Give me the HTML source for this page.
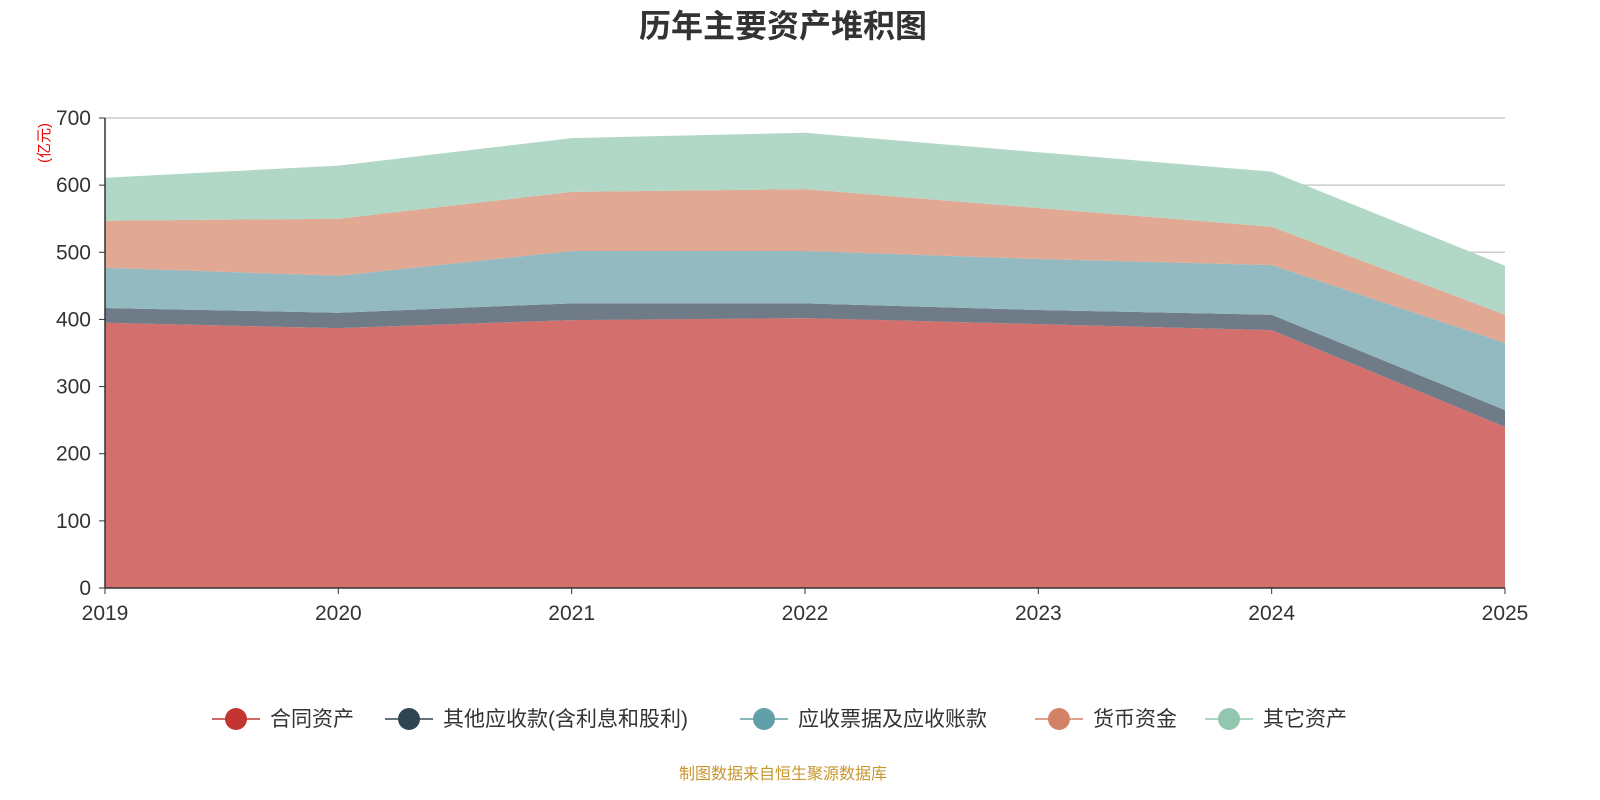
<!DOCTYPE html>
<html><head><meta charset="utf-8"><style>
body{margin:0;background:#fff;}
svg{display:block;font-family:"Liberation Sans","Noto Sans CJK SC",sans-serif;}
</style></head><body>
<svg id="c" width="1600" height="800">
<text x="783" y="37" text-anchor="middle" font-size="32" font-weight="bold" fill="#333">历年主要资产堆积图</text>
<text transform="translate(49,143) rotate(-90)" text-anchor="middle" font-size="15" fill="#e00">(亿元)</text>
<g id="grid"></g><g id="areas"></g><g id="axes"></g><g id="legend"></g>
<text x="783" y="779" text-anchor="middle" font-size="16" fill="#c8962d">制图数据来自恒生聚源数据库</text>
</svg>
<script>
const years=["2019","2020","2021","2022","2023","2024","2025"];
const contractAssets=[395,387,399,402,393,384,240];
const otherReceivables=[22,23,25,22,21,23,25];
const notesReceivable=[60,55,78,78,76,74,100];
const cash=[70,85,88,92,76,57,42];
const otherAssets=[64,79,80,84,83,82,73];
const yTicks=[0,100,200,300,400,500,600,700];
const seriesNames=["合同资产","其他应收款(含利息和股利)","应收票据及应收账款","货币资金","其它资产"];
const NS="http://www.w3.org/2000/svg";
const X0=105,X1=1505,Y0=588,Y1=118,YMAX=700;
const xs=i=>X0+(X1-X0)*i/(years.length-1);
const ys=v=>Y0-(Y0-Y1)*v/YMAX;
function mk(t,a,p){const e=document.createElementNS(NS,t);for(const k in a)e.setAttribute(k,a[k]);p.appendChild(e);return e;}
const grid=document.getElementById('grid'),axes=document.getElementById('axes'),areas=document.getElementById('areas'),legend=document.getElementById('legend');
yTicks.forEach(v=>{
 if(v>0){const l=mk('line',{x1:X0,x2:X1,y1:ys(v),y2:ys(v),stroke:'#ccc','stroke-width':1.5},grid);
 
 }
 const t=mk('text',{x:91,y:ys(v)+7,'text-anchor':'end','font-size':21,fill:'#333'},axes);t.textContent=v;
 
 
 mk('line',{x1:X0-6,x2:X0,y1:ys(v),y2:ys(v),stroke:'#333'},axes);
});
const all=[contractAssets,otherReceivables,notesReceivable,cash,otherAssets];
const fills=["#d3706d","#6f7b86","#93bac1","#e1a893","#b1d8c6"];
const lineC=["#c23531","#2f4554","#61a0a8","#d48265","#91c7ae"];
let base=years.map(()=>0);
all.forEach((s,k)=>{
 const top=base.map((b,i)=>b+s[i]);
 let d='M'+top.map((v,i)=>xs(i)+','+ys(v)).join(' L');
 for(let i=years.length-1;i>=0;i--)d+=' L'+xs(i)+','+ys(base[i]);
 const p=mk('path',{d:d+'Z',fill:fills[k]},areas);
 
 
 base=top;
});
mk('line',{x1:X0,x2:X0,y1:Y1,y2:Y0,stroke:'#333','stroke-width':1.5},axes);
mk('line',{x1:X0,x2:X1,y1:Y0,y2:Y0,stroke:'#333','stroke-width':1.5},axes);
years.forEach((y,i)=>{
 mk('line',{x1:xs(i),x2:xs(i),y1:Y0,y2:Y0+6,stroke:'#333'},axes);
 const t=mk('text',{x:xs(i),y:620,'text-anchor':'middle','font-size':21,fill:'#333'},axes);t.textContent=y;
 
 
});
const lx=[212,385,740,1035,1205];
seriesNames.forEach((n,k)=>{
 const g=mk('g',{},legend);
 
 
 mk('line',{x1:lx[k],x2:lx[k]+48,y1:719,y2:719,stroke:lineC[k],'stroke-width':1.5},g);
 mk('circle',{cx:lx[k]+24,cy:719,r:11,fill:lineC[k]},g);
 const t=mk('text',{x:lx[k]+58,y:726,'font-size':21,fill:'#333'},g);t.textContent=n;
});
</script>
</body></html>
